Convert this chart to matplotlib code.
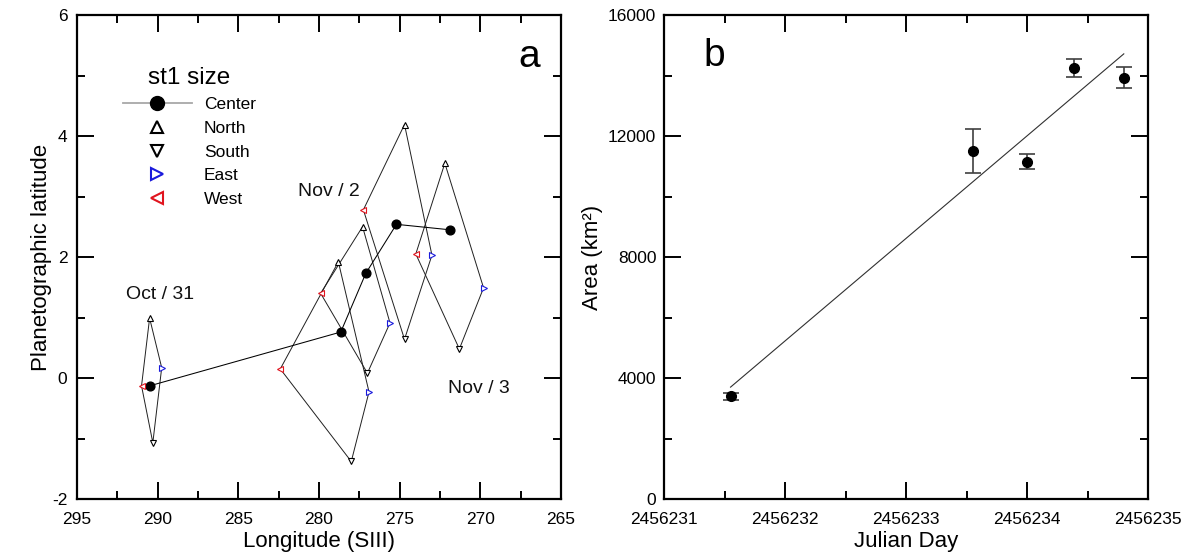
import numpy as np
import matplotlib
matplotlib.use('Agg')
import matplotlib.pyplot as plt
from matplotlib.lines import Line2D
from matplotlib.ticker import MultipleLocator, StrMethodFormatter

plt.rcParams['font.family'] = ['Liberation Sans', 'DejaVu Sans']
plt.rcParams['axes.unicode_minus'] = False

# ---------------- Panel a data (st1 size) ----------------
center_lon = [290.5, 278.65, 277.1, 275.2, 271.9]
center_lat = [-0.13, 0.76, 1.73, 2.54, 2.45]
north_lon = [290.5, 278.8, 277.3, 274.7, 272.2]
north_lat = [0.99, 1.92, 2.50, 4.19, 3.55]
east_lon = [289.75, 276.9, 275.6, 273.0, 269.8]
east_lat = [0.17, -0.23, 0.91, 2.03, 1.49]
south_lon = [290.3, 278.0, 277.0, 274.7, 271.3]
south_lat = [-1.07, -1.38, 0.08, 0.64, 0.48]
west_lon = [291.0, 282.4, 279.9, 277.25, 274.0]
west_lat = [-0.13, 0.15, 1.40, 2.78, 2.05]

date_labels = ['Oct / 31', 'Nov / 2', 'Nov / 3']
date_lon = [289.86, 279.38, 270.09]
date_lat = [1.30, 3.0, -0.24]

# ---------------- Panel b data ----------------
jd = [2456231.55, 2456233.55, 2456234.00, 2456234.39, 2456234.80]
area = [3400, 11500, 11150, 14240, 13930]
area_err = [120, 720, 245, 300, 340]

W, H = 1200, 554
fig = plt.figure(figsize=(W / 100, H / 100), dpi=100)
axa = fig.add_axes([77 / W, 55 / H, 484 / W, 484 / H])
axb = fig.add_axes([664 / W, 55 / H, 484 / W, 484 / H])

for ax in (axa, axb):
    for s in ax.spines.values():
        s.set_linewidth(1.6)
    ax.tick_params(which='both', direction='in', top=True, right=True,
                   width=1.4, labelsize=12.5, pad=7)
    ax.tick_params(axis='x', pad=9)
    ax.tick_params(which='major', length=12)
    ax.tick_params(which='minor', length=6)

# ---- Panel a ----
lw_d = 0.7
for i in range(len(center_lon)):
    xs = [north_lon[i], east_lon[i], south_lon[i], west_lon[i], north_lon[i]]
    ys = [north_lat[i], east_lat[i], south_lat[i], west_lat[i], north_lat[i]]
    axa.plot(xs, ys, color='#202020', lw=lw_d, zorder=2)

axa.plot(center_lon, center_lat, color='black', lw=0.75, zorder=3)
axa.plot(center_lon, center_lat, 'o', color='black', ms=6.3, zorder=4)
ms_t = 4.5
axa.plot(north_lon, north_lat, '^', ls='none', ms=ms_t, mfc='white', mec='black', mew=0.8, zorder=4)
axa.plot(south_lon, south_lat, 'v', ls='none', ms=ms_t, mfc='white', mec='black', mew=0.8, zorder=4)
axa.plot(east_lon, east_lat, '>', ls='none', ms=ms_t, mfc='white', mec='#1a1adc', mew=0.8, zorder=4)
axa.plot(west_lon, west_lat, '<', ls='none', ms=ms_t, mfc='white', mec='#e0141e', mew=0.8, zorder=4)

for t, x, y in zip(date_labels, date_lon, date_lat):
    axa.text(x, y, t, fontsize=14, ha='center', va='baseline', color='#111111')

axa.set_xlim(295, 265)
axa.set_ylim(-2, 6)
axa.xaxis.set_major_locator(MultipleLocator(5))
axa.xaxis.set_minor_locator(MultipleLocator(2.5))
axa.yaxis.set_major_locator(MultipleLocator(2))
axa.yaxis.set_minor_locator(MultipleLocator(1))
axa.set_xlabel('Longitude (SIII)', fontsize=16, labelpad=3)
axa.set_ylabel('Planetographic latitude', fontsize=16, labelpad=0)
axa.text(0.935, 0.893, 'a', transform=axa.transAxes, fontsize=28,
         ha='center', va='baseline')

handles = [
    Line2D([], [], color='#a8a8a8', lw=1.3, marker='o', ms=10,
           mfc='black', mec='black', label='Center'),
    Line2D([], [], ls='none', marker='^', ms=8, mfc='none', mec='black',
           mew=1.5, label='North'),
    Line2D([], [], ls='none', marker='v', ms=8, mfc='none', mec='black',
           mew=1.5, label='South'),
    Line2D([], [], ls='none', marker='>', ms=8, mfc='none', mec='#1a1adc',
           mew=1.5, label='East'),
    Line2D([], [], ls='none', marker='<', ms=8, mfc='none', mec='#e0141e',
           mew=1.5, label='West'),
]
leg = axa.legend(handles=handles, loc='upper left',
                 bbox_to_anchor=(0.0944, 0.893), frameon=False,
                 borderpad=0, borderaxespad=0, handlelength=4.0,
                 handletextpad=0.67, labelspacing=0.49, fontsize=12.5,
                 title='st1 size', title_fontsize=17.5, numpoints=1)

# ---- Panel b ----
x0 = jd[0]
jd_rel = np.array(jd) - x0
coef = np.polyfit(jd_rel, area, 1)
xfit = np.array([jd_rel[0], jd_rel[-1]])
axb.plot(xfit + x0, np.polyval(coef, xfit), color='#303030', lw=0.8, zorder=2)
axb.errorbar(jd, area, yerr=area_err, fmt='o', color='black', ms=7,
             ecolor='#404040', elinewidth=1.2, capsize=5.8, capthick=1.2,
             zorder=3)

axb.set_xlim(2456231, 2456235)
axb.set_ylim(0, 16000)
axb.xaxis.set_major_locator(MultipleLocator(1))
axb.xaxis.set_minor_locator(MultipleLocator(0.5))
axb.xaxis.set_major_formatter(StrMethodFormatter('{x:.0f}'))
axb.yaxis.set_major_locator(MultipleLocator(4000))
axb.yaxis.set_minor_locator(MultipleLocator(2000))
axb.tick_params(axis='y', pad=5.5)
axb.set_xlabel('Julian Day', fontsize=16, labelpad=3)
axb.set_ylabel('Area (km²)', fontsize=16, labelpad=4)
axb.text(0.103, 0.894, 'b', transform=axb.transAxes, fontsize=28,
         ha='center', va='baseline')

fig.savefig('out.png', dpi=100)
